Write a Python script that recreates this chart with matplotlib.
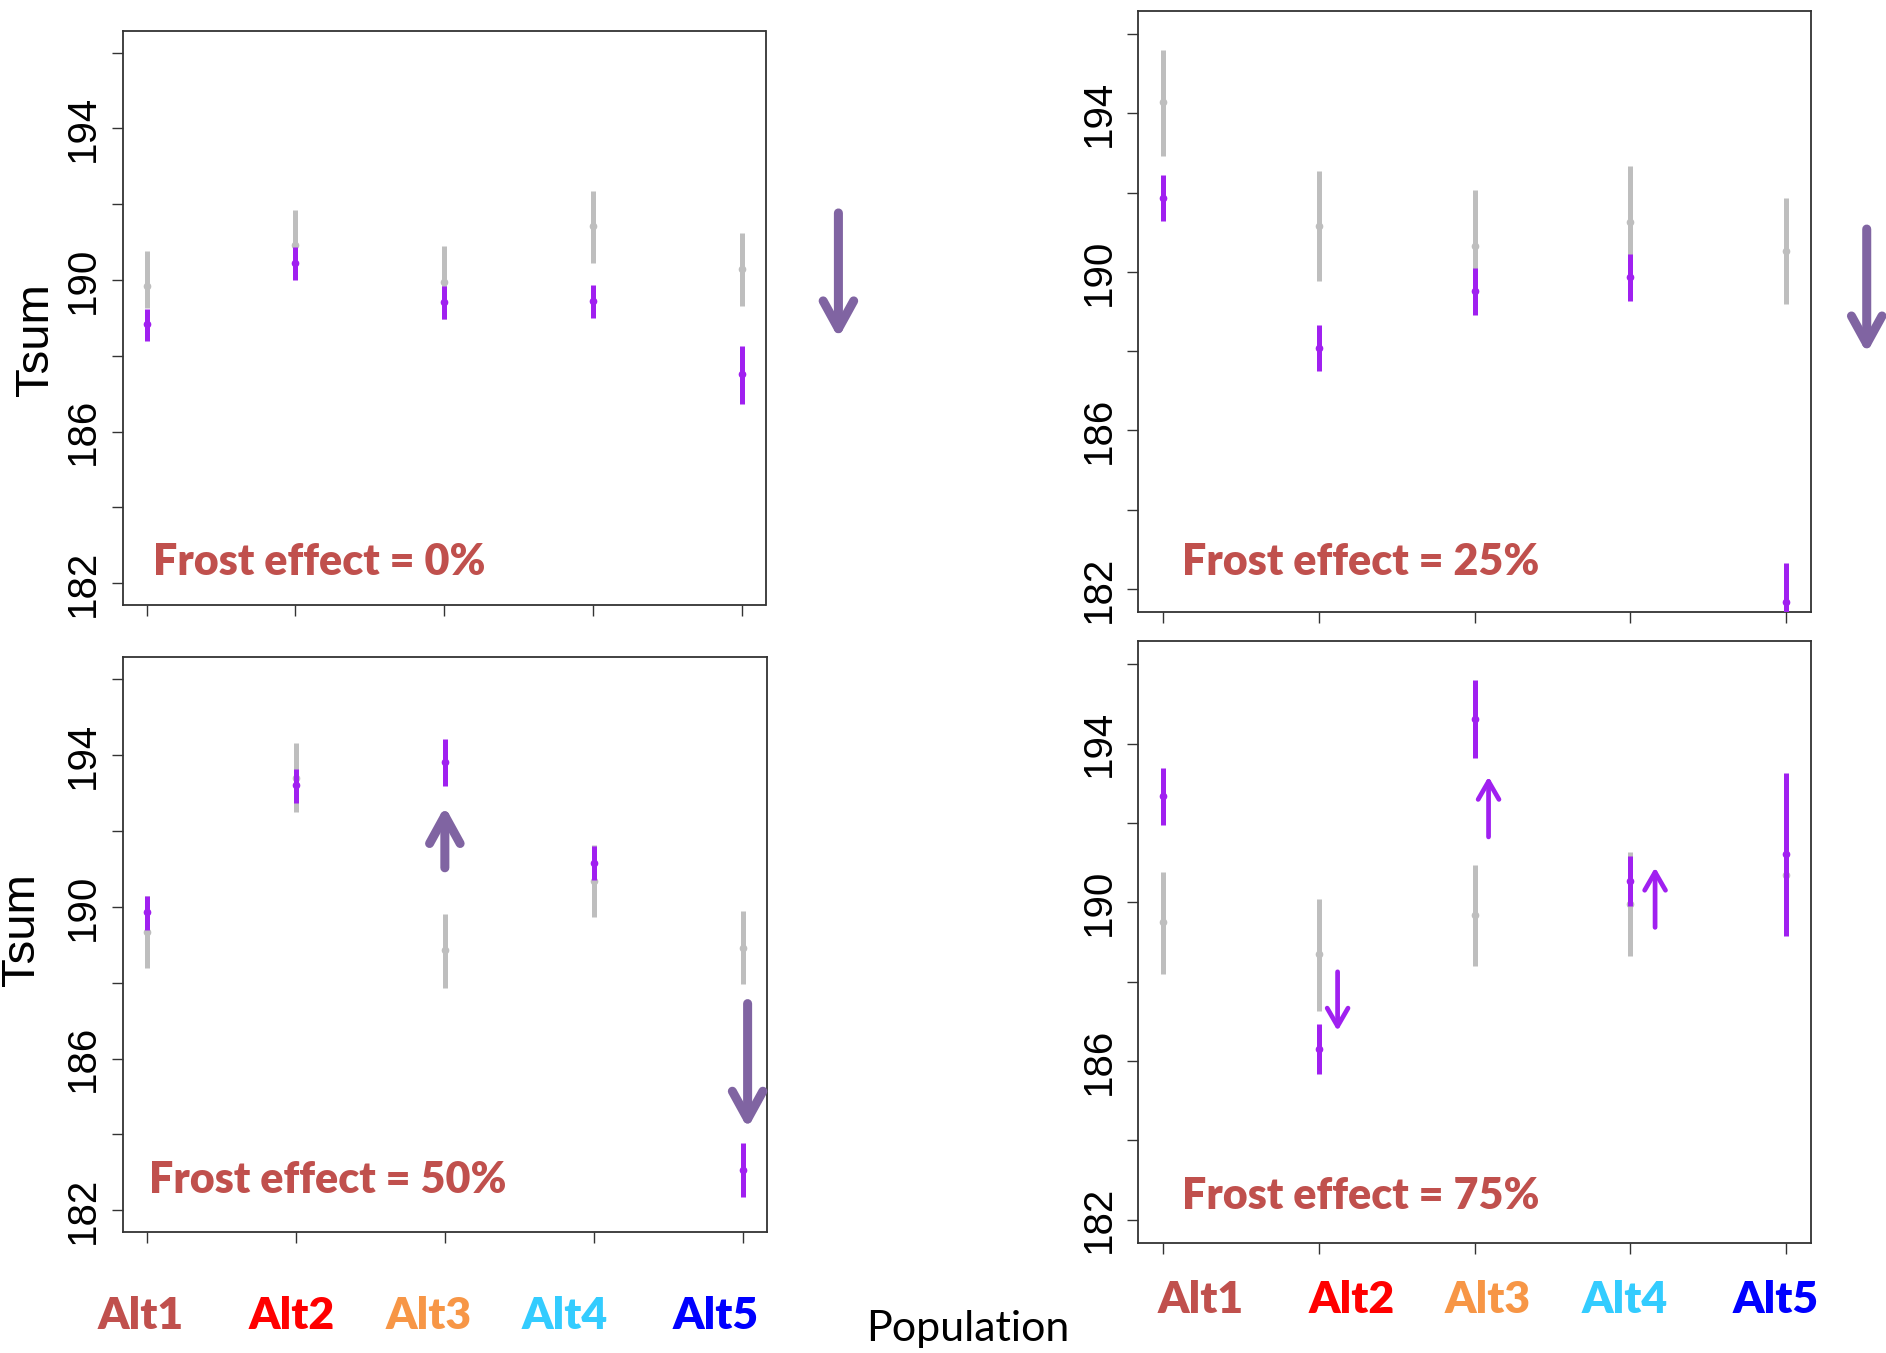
import numpy as np
import matplotlib
matplotlib.use("Agg")
import matplotlib.pyplot as plt

# population positions and labels
pops = [1, 2, 3, 4, 5]
pop_labels = ["Alt1", "Alt2", "Alt3", "Alt4", "Alt5"]
pop_colors = ["#C0504D", "#FF0000", "#F79646", "#33CCFF", "#0000FF"]

frost_levels = [0, 25, 50, 75]

# grey = without frost, purple = with frost (mean and interval)
grey_mid_0 = [189.85, 190.93, 189.94, 191.42, 190.28]
grey_lo_0 = [189.26, 190.02, 188.98, 190.46, 189.31]
grey_hi_0 = [190.77, 191.84, 190.89, 192.36, 191.23]
purp_mid_0 = [188.83, 190.46, 189.41, 189.44, 187.52]
purp_lo_0 = [188.38, 190.00, 188.97, 189.00, 186.72]
purp_hi_0 = [189.23, 190.87, 189.85, 189.87, 188.25]

grey_mid_25 = [194.29, 191.15, 190.66, 191.27, 190.53]
grey_lo_25 = [192.93, 189.76, 189.26, 189.87, 189.20]
grey_hi_25 = [195.60, 192.54, 192.06, 192.67, 191.86]
purp_mid_25 = [191.86, 188.09, 189.52, 189.88, 181.68]
purp_lo_25 = [191.28, 187.50, 188.92, 189.26, 180.70]
purp_hi_25 = [192.45, 188.67, 190.10, 190.46, 182.65]

grey_mid_50 = [189.34, 193.40, 188.86, 190.68, 188.92]
grey_lo_50 = [188.39, 192.49, 187.86, 189.72, 187.96]
grey_hi_50 = [190.29, 194.32, 189.82, 191.64, 189.88]
purp_mid_50 = [189.86, 193.21, 193.81, 191.16, 183.07]
purp_lo_50 = [189.40, 192.75, 193.19, 190.72, 182.34]
purp_hi_50 = [190.29, 193.64, 194.43, 191.60, 183.77]

grey_mid_75 = [189.51, 188.70, 189.67, 189.97, 190.69]
grey_lo_75 = [188.20, 187.27, 188.40, 188.65, 189.50]
grey_hi_75 = [190.77, 190.08, 190.94, 191.28, 191.90]
purp_mid_75 = [192.67, 186.30, 194.63, 190.53, 191.21]
purp_lo_75 = [191.95, 185.67, 193.63, 189.91, 189.16]
purp_hi_75 = [193.40, 186.93, 195.60, 191.17, 193.25]

# annotation arrows: (x, y_from, y_to)
arrows_0 = [(5.65, 191.77, 188.47)]
arrows_25 = [(5.52, 191.08, 187.95)]
arrows_50 = [(3.0, 191.03, 192.65), (5.03, 187.45, 184.16)]
arrows_75 = [(2.12, 188.25, 186.76), (3.09, 191.65, 193.17), (4.16, 189.37, 190.88)]

W, H = 1886, 1353
fig = plt.figure(figsize=(W / 100, H / 100), dpi=100)

GREY = "#BEBEBE"
PURPLE = "#A020F0"
ARROW_BIG = "#8064A2"
LABEL_RED = "#C0504D"

# axes boxes in pixels: left, top, right, bottom
boxes = [
    (122.7, 30.6, 765.5, 605.3),
    (1138.4, 11.0, 1810.7, 612.0),
    (122.7, 657.3, 767.0, 1232.3),
    (1138.4, 641.4, 1810.7, 1242.7),
]

panels = [
    (grey_mid_0, grey_lo_0, grey_hi_0, purp_mid_0, purp_lo_0, purp_hi_0, arrows_0, "big"),
    (grey_mid_25, grey_lo_25, grey_hi_25, purp_mid_25, purp_lo_25, purp_hi_25, arrows_25, "big"),
    (grey_mid_50, grey_lo_50, grey_hi_50, purp_mid_50, purp_lo_50, purp_hi_50, arrows_50, "big"),
    (grey_mid_75, grey_lo_75, grey_hi_75, purp_mid_75, purp_lo_75, purp_hi_75, arrows_75, "small"),
]

# frost label left/baseline in pixels
frost_pos = [(153, 575), (1182, 575), (149, 1193), (1182, 1209)]

for i, (gm, gl, gh, pm, pl, ph, arrows, kind) in enumerate(panels):
    l, t, r, b = boxes[i]
    ax = fig.add_axes([l / W, 1 - b / H, (r - l) / W, (b - t) / H])
    ax.vlines(pops, gl, gh, color=GREY, lw=3.6, zorder=2)
    ax.plot(pops, gm, "o", color=GREY, ms=4.5, zorder=2)
    ax.vlines(pops, pl, ph, color=PURPLE, lw=3.6, zorder=3)
    ax.plot(pops, pm, "o", color=PURPLE, ms=4.5, zorder=3)

    ax.set_xlim(0.84, 5.16)
    ax.set_ylim(181.42, 196.58)
    ax.set_xticks(pops)
    ax.set_xticklabels([])
    yt = np.arange(182, 197, 2)
    ax.set_yticks(yt)
    ax.set_yticklabels([str(v) if v % 4 == 2 else "" for v in yt],
                       rotation=90, va="center", fontsize=29, family="Liberation Sans")
    ax.tick_params(direction="out", length=8, width=1.0, color="#333333", pad=7)
    for s in ax.spines.values():
        s.set_linewidth(1.3)
        s.set_color("#333333")

    for (xa, y0, y1) in arrows:
        if kind == "big":
            props = dict(arrowstyle="->,head_length=1.0,head_width=0.55",
                         mutation_scale=20, color=ARROW_BIG, lw=6.5,
                         shrinkA=0, shrinkB=0)
        else:
            props = dict(arrowstyle="->,head_length=1.3,head_width=0.75",
                         mutation_scale=10, color=PURPLE, lw=3.4,
                         shrinkA=0, shrinkB=0)
        ax.annotate("", xy=(xa, y1), xytext=(xa, y0), arrowprops=props,
                    annotation_clip=False, zorder=5)

    fx, fy = frost_pos[i]
    fig.text(fx / W, 1 - fy / H, f"Frost effect = {frost_levels[i]}%",
             color=LABEL_RED, fontsize=31, fontweight="heavy", family="Lato",
             ha="left", va="baseline")

# y axis titles
fig.text(36 / W, 1 - 340 / H, "Tsum", rotation=90, fontsize=34,
         family="Liberation Sans", ha="center", va="center")
fig.text(22 / W, 1 - 930 / H, "Tsum", rotation=90, fontsize=34,
         family="Liberation Sans", ha="center", va="center")

# population labels under the bottom panels
left_x = [141, 292, 429, 565, 716]
right_x = [1201, 1352, 1488, 1625, 1776]
for lab, col, xl, xr in zip(pop_labels, pop_colors, left_x, right_x):
    fig.text(xl / W, 1 - 1329 / H, lab, color=col, fontsize=32, fontweight="heavy",
             family="Lato", ha="center", va="baseline")
    fig.text(xr / W, 1 - 1313 / H, lab, color=col, fontsize=32, fontweight="heavy",
             family="Lato", ha="center", va="baseline")

fig.text(968 / W, 1 - 1341 / H, "Population", fontsize=31, family="Lato",
         ha="center", va="baseline")

fig.savefig("out.png", dpi=100)
